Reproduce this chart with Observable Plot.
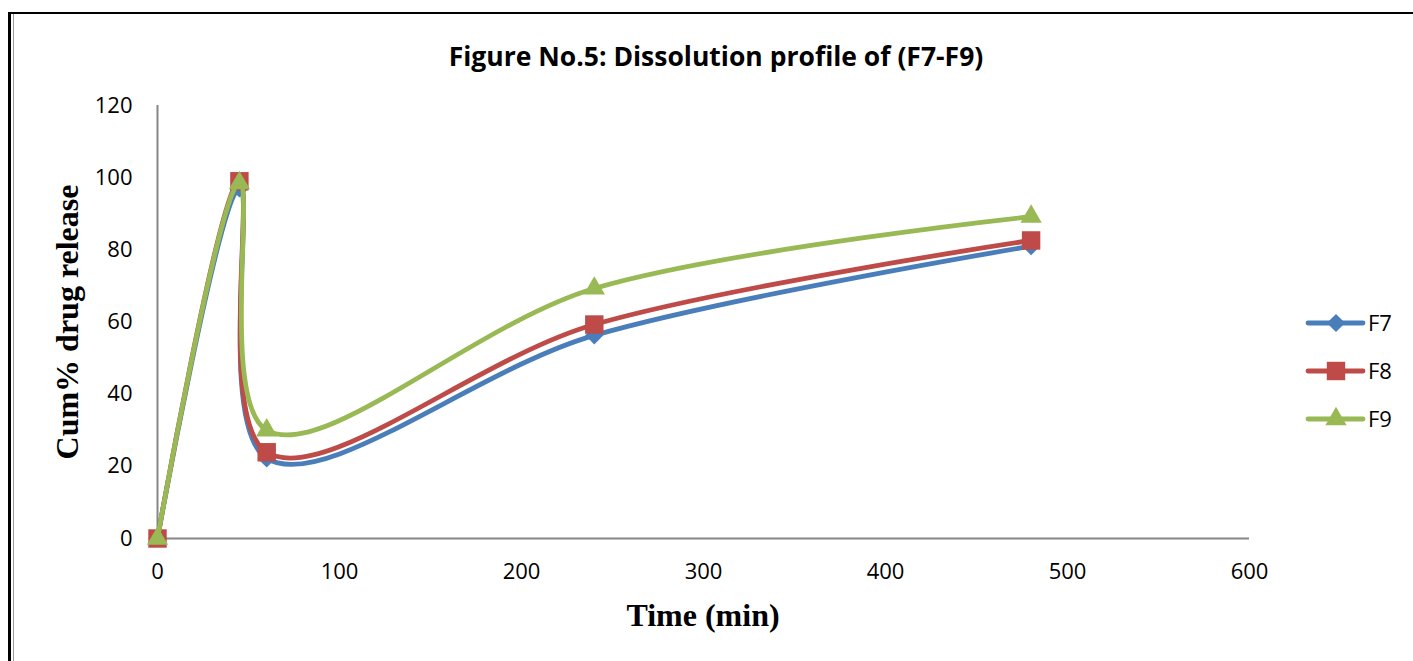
<!DOCTYPE html>
<html><head><meta charset="utf-8">
<script src="https://cdn.jsdelivr.net/npm/d3@7"></script>
<script src="https://cdn.jsdelivr.net/npm/@observablehq/plot@0.6"></script>
<style>
body{margin:0;background:#fff;}
#wrap{position:relative;width:1413px;height:661px;overflow:hidden;background:#fff;}
#frame{position:absolute;left:8px;top:12px;width:1420px;height:700px;border-left:3px solid #000;border-top:2px solid #000;box-sizing:border-box;}
#frame2{position:absolute;left:13px;top:14px;width:1px;height:700px;background:#999;}
#title{position:absolute;top:56px;left:716px;transform:translate(-50%,-50%);white-space:nowrap;font:bold 26.5px "Open Sans";color:#000;}
#ylab{position:absolute;left:67px;top:322px;transform:translate(-50%,-50%) rotate(-90deg);white-space:nowrap;font:bold 32px "Liberation Serif";color:#000;}
#xlab{position:absolute;left:703px;top:615px;transform:translate(-50%,-50%);white-space:nowrap;font:bold 32px "Liberation Serif";color:#000;}
#chart{position:absolute;left:0;top:0;}
#legend{position:absolute;left:0;top:0;}
</style></head>
<body>
<div id="wrap">
  <div id="chart"></div>
  <div id="frame"></div>
  <div id="frame2"></div>
  <div id="title">Figure No.5: Dissolution profile of (F7-F9)</div>
  <div id="ylab">Cum% drug release</div>
  <div id="xlab">Time (min)</div>
  <svg id="legend" width="1413" height="661"></svg>
</div>
<script>
const times = [0, 45, 60, 240, 480];
const f7 = [0, 97, 22.2, 56.3, 81];
const f8 = [0, 99, 23.9, 59.3, 82.6];
const f9 = [0, 98.5, 30, 69.3, 89.2];
const seriesNames = ["F7", "F8", "F9"];
const seriesValues = [f7, f8, f9];
const seriesColors = ["#4A7EBB", "#BE4B48", "#98B954"];
const seriesSymbols = ["diamond2", "square", "triangle"];
const seriesR = [8.2, 10.4, 7.9];
const xTicks = [0, 100, 200, 300, 400, 500, 600];
const yTicks = [0, 20, 40, 60, 80, 100, 120];

const marks = [
  Plot.axisX({ticks: xTicks, tickSize: 0, tickPadding: 25, label: null, fontSize: 22}),
  Plot.axisY({ticks: yTicks, tickSize: 0, tickPadding: 25, label: null, fontSize: 22}),
  Plot.ruleY([0], {stroke: "#868686", strokeWidth: 2}),
  Plot.ruleX([0], {stroke: "#868686", strokeWidth: 2})
];
seriesNames.forEach((name, i) => {
  const data = times.map((t, j) => ({t, v: seriesValues[i][j]}));
  marks.push(Plot.line(data, {x: "t", y: "v", stroke: seriesColors[i], strokeWidth: 4.8, curve: "catmull-rom"}));
  marks.push(Plot.dot(data, {x: "t", y: "v", fill: seriesColors[i], stroke: "none", symbol: seriesSymbols[i], r: seriesR[i]}));
});

const plot = Plot.plot({
  width: 1413, height: 661,
  marginLeft: 157, marginRight: 164, marginTop: 105, marginBottom: 123,
  x: {domain: [0, 600]},
  y: {domain: [0, 120]},
  style: {fontFamily: "Open Sans", fontSize: "22px", color: "#000", background: "transparent"},
  marks
});
document.getElementById("chart").append(plot);

// legend
const lg = d3.select("#legend");
const symMap = {diamond2: d3.symbolDiamond2, square: d3.symbolSquare, triangle: d3.symbolTriangle};
seriesNames.forEach((name, i) => {
  const y = 323 + i * 48;
  lg.append("line").attr("x1", 1308).attr("x2", 1363).attr("y1", y).attr("y2", y)
    .attr("stroke", seriesColors[i]).attr("stroke-width", 4.8).attr("stroke-linecap", "round");
  lg.append("path").attr("transform", `translate(1336,${y})`)
    .attr("d", d3.symbol(symMap[seriesSymbols[i]], Math.PI * seriesR[i] * seriesR[i])())
    .attr("fill", seriesColors[i]);
  lg.append("text").attr("x", 1368).attr("y", y).attr("dy", "0.35em")
    .attr("font-family", "Open Sans").attr("font-size", 22).text(name);
});
</script>
</body></html>
